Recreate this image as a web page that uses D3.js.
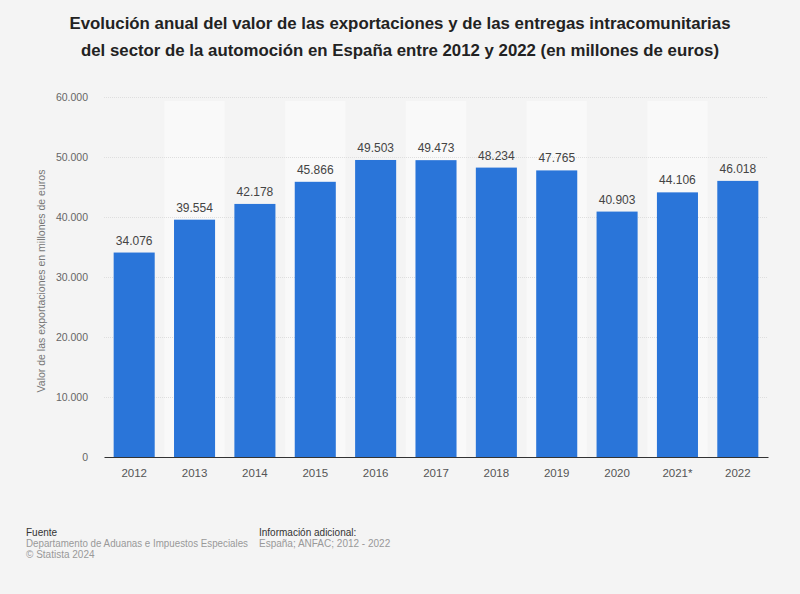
<!DOCTYPE html>
<html>
<head>
<meta charset="utf-8">
<script src="https://cdn.jsdelivr.net/npm/d3@7"></script>
<style>
html,body{margin:0;padding:0;background:#f4f4f4;}
svg{display:block;font-family:"Liberation Sans",Arial,Helvetica,sans-serif;}
</style>
</head>
<body>
<svg id="chart" width="800" height="594"></svg>
<script>
const categories = ["2012","2013","2014","2015","2016","2017","2018","2019","2020","2021*","2022"];
const values = [34076,39554,42178,45866,49503,49473,48234,47765,40903,44106,46018];
const yTicks = [0,10000,20000,30000,40000,50000,60000];
const titleLines = [
  "Evolución anual del valor de las exportaciones y de las entregas intracomunitarias",
  "del sector de la automoción en España entre 2012 y 2022 (en millones de euros)"
];
const yAxisTitle = "Valor de las exportaciones en millones de euros";

(function () {
const fmt = v => d3.format(",")(v).replace(/,/g, ".");

const svg = d3.select("#chart");
svg.append("rect").attr("width",800).attr("height",594).attr("fill","#f4f4f4");

const pLeft = 104, pRight = 768, pTop = 97, pBottom = 457;
const x = d3.scaleBand().domain(categories).range([pLeft, pRight]).paddingInner(0.32).paddingOuter(0.16);
const y = d3.scaleLinear().domain([0, 60000]).range([pBottom, pTop]);

// title
const titleWidths = [661, 638];
titleLines.forEach((t, i) => {
  svg.append("text").attr("x", 400).attr("y", 29 + i * 27)
    .attr("text-anchor", "middle").attr("font-size", 17).attr("font-weight", "bold")
    .attr("fill", "#222").attr("textLength", titleWidths[i]).attr("lengthAdjust", "spacingAndGlyphs")
    .text(t);
});

// alternating bands
svg.append("g").selectAll("rect").data(categories.filter((d, i) => i % 2 === 1)).join("rect")
  .attr("x", d => x(d) - x.step() * x.paddingInner() / 2)
  .attr("width", x.step())
  .attr("y", y(60000) + 4).attr("height", pBottom - y(60000) - 4)
  .attr("fill", "#f9f9f9");

// gridlines
svg.append("g").selectAll("line").data(yTicks.filter(d => d > 0)).join("line")
  .attr("x1", pLeft).attr("x2", pRight)
  .attr("y1", d => y(d) + 0.5).attr("y2", d => y(d) + 0.5)
  .attr("stroke", "#dedede").attr("stroke-dasharray", "1,1").attr("stroke-width", 1);

// y axis
const yAxis = d3.axisLeft(y).tickValues(yTicks).tickFormat(fmt).tickSize(0).tickPadding(0);
const gy = svg.append("g").attr("transform", `translate(88,0)`).call(yAxis);
gy.select(".domain").remove();
gy.selectAll("text").attr("font-size", 10.5).attr("fill", "#666").attr("font-family", "Liberation Sans, Arial, sans-serif");

// y axis title
svg.append("text").attr("transform", `translate(45,${(pTop + pBottom) / 2 + 4}) rotate(-90)`)
  .attr("text-anchor", "middle").attr("font-size", 10.5).attr("fill", "#777").text(yAxisTitle);

// bars
svg.append("g").selectAll("rect").data(values).join("rect")
  .attr("x", (d, i) => x(categories[i]))
  .attr("width", x.bandwidth())
  .attr("y", d => y(d))
  .attr("height", d => pBottom - y(d))
  .attr("fill", "#2a75d9");

// value labels
svg.append("g").selectAll("text").data(values).join("text")
  .attr("x", (d, i) => x(categories[i]) + x.bandwidth() / 2)
  .attr("y", d => y(d) - 8)
  .attr("text-anchor", "middle").attr("font-size", 12).attr("fill", "#444")
  .text(d => fmt(d));

// x axis
const xAxis = d3.axisBottom(x).tickSize(0).tickPadding(12);
const gx = svg.append("g").attr("transform", `translate(0,${pBottom})`).call(xAxis);
gx.select(".domain").attr("stroke", "#333").attr("stroke-width", 1.2);
gx.selectAll("text").attr("font-size", 11.5).attr("fill", "#555").attr("font-family", "Liberation Sans, Arial, sans-serif");

// footer
const foot = svg.append("g").attr("font-size", 10);
foot.append("text").attr("x", 26).attr("y", 536).attr("fill", "#333").text("Fuente");
foot.append("text").attr("x", 26).attr("y", 547).attr("fill", "#999")
  .attr("textLength", 222).attr("lengthAdjust", "spacingAndGlyphs")
  .text("Departamento de Aduanas e Impuestos Especiales");
foot.append("text").attr("x", 26).attr("y", 558).attr("fill", "#999").text("© Statista 2024");
foot.append("text").attr("x", 259).attr("y", 536).attr("fill", "#333").text("Información adicional:");
foot.append("text").attr("x", 259).attr("y", 547).attr("fill", "#999").text("España; ANFAC; 2012 - 2022");
})();
</script>
</body>
</html>
